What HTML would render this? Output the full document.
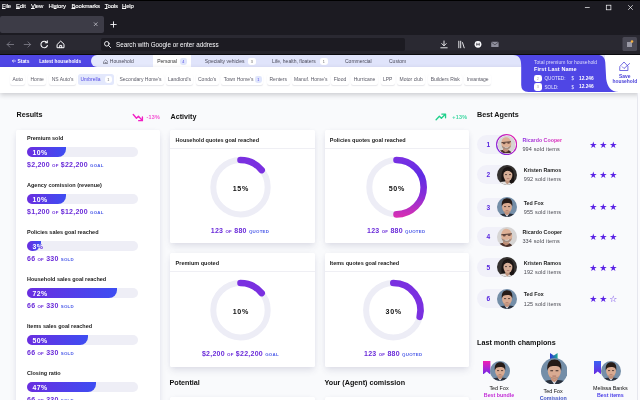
<!DOCTYPE html>
<html><head><meta charset="utf-8">
<style>
*{box-sizing:border-box;margin:0;padding:0}
html,body{width:640px;height:400px;overflow:hidden;background:#f9fafc;font-family:"Liberation Sans",sans-serif;}
body{position:relative}
.a{position:absolute;white-space:nowrap;line-height:1}
/* chrome */
#chrome{left:0;top:0;width:640px;height:55px;background:#1c1b22}
#tab{left:0;top:16px;width:103.5px;height:17px;background:#3d3c47;border-radius:2px}
#nav{left:0;top:34.6px;width:640px;height:19.2px;background:linear-gradient(#2a2932 0,#2a2932 76%,#24232b 84%,#24232b 100%);border-bottom:1.2px solid #0a0a0d;box-sizing:content-box}
#url{left:101px;top:37.5px;width:304px;height:13.5px;background:#1c1b22;border-radius:2px}
.menu{top:2.7px;font-size:6px;color:#fff;letter-spacing:-.18px;-webkit-text-stroke:.12px #fff}
.menu u{text-decoration-thickness:.4px;text-underline-offset:.35px}
/* page header */
#hdr{left:0;top:55px;width:640px;height:12px;background:#e0e4fb}
#hl{left:0;top:55px;width:100px;height:12px;background:#4f46e5}
#house{left:91px;top:55px;width:62px;height:12px;background:#e5e9fc;border-radius:6px 0 0 6px}
#pers{left:152.5px;top:55px;width:38px;height:12px;background:#fff}
.ht{top:59.4px;font-size:5px;color:#4a4a5a}
.hw{top:59.9px;font-size:4.9px;color:#fff;font-weight:bold}
.bdg{top:58px;height:7px;width:7.5px;border-radius:2px;background:#fff;font-size:3.8px;color:#666;text-align:center;line-height:8.2px;border-radius:2.4px}
#chips{left:0;top:67px;width:640px;height:25.6px;background:#fff;box-shadow:0 2px 5px rgba(20,20,30,.2)}
.chip{top:74px;height:10.5px;border-radius:2.5px;background:#fff;box-shadow:0 1.3px 1px -.5px rgba(60,60,90,.13);font-size:5px;color:#5a5a66;line-height:11.2px;padding:0 2.5px}
.card{background:#fff;border-radius:1.5px;box-shadow:0 4px 7px -1px rgba(60,60,105,.14),0 0 4px rgba(70,70,120,.03)}
.h1{font-size:7.2px;font-weight:bold;color:#111}
.lbl{font-size:5.5px;font-weight:bold;color:#1a1a1a;left:27px}
.track{left:27px;width:111px;height:10px;border-radius:5px;background:#eeeef6;color:#5a22e0;font-weight:bold;font-size:6.9px;line-height:11.2px;padding-left:5.6px;letter-spacing:.35px}
.fill{left:27px;height:10px;border-radius:5px 0 8px 5px;background:linear-gradient(90deg,#6a2ee0,#3d4df2);color:#fff;font-weight:bold;font-size:6.9px;line-height:11.2px;padding-left:5.6px;letter-spacing:.35px;overflow:hidden}
.val{left:27px;font-size:7px;font-weight:bold;color:#6a2bd9;letter-spacing:.25px}
.val s{text-decoration:none;font-size:4.4px;letter-spacing:.2px}
.val i{font-style:normal;font-size:4.4px;color:#4a5ae8;letter-spacing:.2px}
.ct{font-size:5.5px;font-weight:bold;color:#1a1a1a}
.pc{font-size:7.1px;font-weight:bold;color:#111;letter-spacing:.7px;text-align:center;width:40px;padding-left:.7px}
.cv{font-size:7px;font-weight:bold;color:#6a2bd9;letter-spacing:.25px;text-align:center;width:144px}
.cv s{text-decoration:none;font-size:4.4px}
.cv i{font-style:normal;font-size:4.4px;color:#4a5ae8}
.pill{left:477px;width:40px;height:19px;border-radius:9.5px;background:#f1f1f9}
.rk{left:483.4px;width:10px;text-align:center;font-size:6.6px;font-weight:bold;color:#5624e0}
.nm{left:522.6px;font-size:5.3px;font-weight:bold;color:#222}
.sd{left:522.6px;font-size:5.5px;color:#4a4a52;letter-spacing:.15px}
.nm1{background:linear-gradient(90deg,#8a2be2,#e628b4);-webkit-background-clip:text;background-clip:text;color:transparent}
.st{left:589.2px;font-size:9px;color:#5a22e6;letter-spacing:1.95px;font-family:"DejaVu Sans",sans-serif}
.cn{font-size:5.4px;color:#111;text-align:center;width:60px}
.cb{font-size:5.3px;font-weight:bold;text-align:center;width:60px}
</style></head><body>
<!-- browser chrome -->
<div class="a" id="chrome"></div>
<div class="a" style="left:0;top:0;width:640px;height:1px;background:#000"></div>
<div class="a" id="tab"></div>
<div class="a" id="nav"></div>
<div class="a" id="url"></div>
<div class="a menu" style="left:2px"><u>F</u>ile</div>
<div class="a menu" style="left:16px"><u>E</u>dit</div>
<div class="a menu" style="left:31px"><u>V</u>iew</div>
<div class="a menu" style="left:48.4px">Hi<u>s</u>tory</div>
<div class="a menu" style="left:71.5px"><u>B</u>ookmarks</div>
<div class="a menu" style="left:104.7px"><u>T</u>ools</div>
<div class="a menu" style="left:122px"><u>H</u>elp</div>
<svg class="a" style="left:0;top:0" width="640" height="55" viewBox="0 0 640 55" fill="none" stroke="#fbfbfe" stroke-width="0.8" stroke-linecap="round" stroke-linejoin="round">
 <!-- window controls -->
 <g stroke-width=".7" stroke-linecap="butt" stroke-linejoin="miter"><path d="M584.900 7.500h4.800"/><rect x="606.300" y="5.200" width="4.600" height="4.600"/><path d="M628.200 5.200l4.600 4.600M632.800 5.200l-4.600 4.600"/></g>
 <!-- tab close, new tab -->
 <path d="M94.2 22.7l3 3M97.2 22.7l-3 3" stroke="#d0d0d8" stroke-width=".7"/>
 <path d="M110.8 24.5h5.4M113.5 21.8v5.4" stroke-width=".9"/>
 <!-- back / forward -->
 <g stroke="#7d7c88" stroke-width=".85"><path d="M13.6 44.5h-6.400M9.800 41.900l-2.600 2.600 2.600 2.600"/><path d="M24.200 44.500h6.400M28 41.900l2.600 2.600-2.600 2.600"/></g>
 <!-- reload -->
 <path d="M46.800 42.400a3.300 3.300 0 1 0 .600 3.100" stroke-width="1.050"/><path d="M47.300 40.800v2h-2" stroke-width="1.050"/>
 <!-- home -->
 <path d="M57.400 44.200l3.300-3.100 3.300 3.100v3.500h-6.600zM59.700 47.700v-2.300h2v2.300" stroke-width="1"/>
 <!-- search -->
 <circle cx="106.8" cy="43.8" r="2.3" stroke-width=".9"/><path d="M108.6 45.6l2 2" stroke-width=".9"/>
 <!-- download -->
 <path d="M444 41v4.5M441.8 43.6l2.2 2.2 2.2-2.2M440.8 47.8h6.4" stroke-width=".9"/>
 <!-- library -->
 <path d="M458.800 41.200v6.600M460.700 41.200v6.600M462.500 42.600l1.700 5.200" stroke-width=".9"/>
 <!-- account -->
 <circle cx="478" cy="44.300" r="3.400" fill="#fbfbfe" stroke="none"/><path d="M476.800 43.200v2.200M479.200 43.200v2.200M476.800 44.300h2.400" stroke="#2b2a33" stroke-width=".7"/>
 <!-- mail -->
 <rect x="491.2" y="41.8" width="7.4" height="5.2" rx=".6" fill="#8f8f9d" stroke="none"/><path d="M491.4 42.2l3.5 2.6 3.5-2.6" stroke="#2b2a33" stroke-width=".6"/>
 <!-- ext -->
 <rect x="622.5" y="37" width="14.5" height="14" rx="1.5" fill="#4a4955" stroke="none"/>
 <rect x="627" y="42" width="5" height="5" fill="#9a99a6" stroke="none"/><circle cx="632" cy="41.5" r="1.3" fill="#f5b041" stroke="none"/>
</svg>
<div class="a" style="left:116px;top:42px;font-size:6.3px;color:#fbfbfe">Search with Google or enter address</div>

<!-- page header -->
<div class="a" id="hdr"></div>
<div class="a" id="hl"></div>
<div class="a" id="house"></div>
<div class="a" id="pers"></div>
<svg class="a" style="left:12px;top:59.4px" width="4" height="4" viewBox="0 0 4 4" fill="none" stroke="#fff" stroke-width=".65" stroke-linecap="round" stroke-linejoin="round"><path d="M3.7 2H.4M1.600 .8L.4 2 1.600 3.200"/></svg><div class="a hw" style="left:17.5px">Stats</div>
<div class="a hw" style="left:39.2px;font-size:4.75px">Latest households</div>
<svg class="a" style="left:103px;top:58.600px" width="5.400" height="5.400" viewBox="0 0 6 6" fill="none" stroke="#3a3a48" stroke-width=".55"><path d="M.6 3L3 .8 5.4 3v2.4H.6zM2.3 5.4V3.9h1.4v1.5"/></svg>
<div class="a ht" style="left:109.8px">Household</div>
<div class="a ht" style="left:157.2px;color:#333">Personal</div>
<div class="a bdg" style="left:179.5px;background:#dfe5fc;color:#4f46e5">4</div>
<div class="a ht" style="left:204.8px">Specialty vehicles</div>
<div class="a bdg" style="left:248px">3</div>
<div class="a ht" style="left:272px">Life, health, floaters</div>
<div class="a bdg" style="left:320px">1</div>
<div class="a ht" style="left:345px">Commercial</div>
<div class="a ht" style="left:389px">Custom</div>

<!-- chips -->
<div class="a" id="chips"></div>
<div class="a chip" style="left:10px">Auto</div>
<div class="a chip" style="left:28px">Home</div>
<div class="a chip" style="left:49.2px">NS Auto's</div>
<div class="a chip" style="left:78px;width:36px;background:#e3e8fc;box-shadow:none;color:#4f46e5">Umbrella</div>
<div class="a bdg" style="left:104.5px;top:75.7px">1</div>
<div class="a chip" style="left:117px">Secondary Home's</div>
<div class="a chip" style="left:165.5px">Landlord's</div>
<div class="a chip" style="left:195.5px">Condo's</div>
<div class="a chip" style="left:221.2px;width:42px">Town Home's</div>
<div class="a bdg" style="left:254.5px;top:75.7px;background:#dfe5fc;color:#4f46e5">1</div>
<div class="a chip" style="left:267px">Renters</div>
<div class="a chip" style="left:291.5px">Manuf. Home's</div>
<div class="a chip" style="left:331.2px">Flood</div>
<div class="a chip" style="left:351.2px">Hurricane</div>
<div class="a chip" style="left:380.5px">LPP</div>
<div class="a chip" style="left:397px">Motor club</div>
<div class="a chip" style="left:428.2px">Builders Risk</div>
<div class="a chip" style="left:464.2px">Invantage</div>

<!-- household summary blob -->
<svg class="a" style="left:500px;top:55px" width="140" height="40" viewBox="500 55 140 40">
 <path d="M605 55h35v37h-35z" fill="#fff"/>
 <path d="M513 55C519.5 55 521.2 59 521.2 66V85Q521.2 92 528.5 92H619C610.5 92 607.2 86 606.2 79L605.3 62.5C605 57.5 602.5 55 597.5 55Z" fill="#4f46e5"/>
 <g fill="none" stroke="#473ed8" stroke-width=".75" stroke-linejoin="round" stroke-linecap="round"><path d="M620.1 66.2l3.900-4.200 3.900 4.200v4.300h-7.800z"/><path d="M622.3 66.800l1.700 1.700 5.600-5"/></g>
</svg>
<div class="a" style="left:534px;top:60px;font-size:5px;color:#dcdcfa">Total premium for household</div>
<div class="a" style="left:534px;top:67px;font-size:5.5px;color:#fff;font-weight:bold;letter-spacing:.1px">First Last Name</div>
<div class="a bdg" style="left:534px;top:74.5px;width:7.5px;height:7.5px;color:#aaa;line-height:8px">2</div>
<div class="a bdg" style="left:534px;top:83px;width:7.5px;height:7.5px;color:#aaa;line-height:8px">3</div>
<div class="a" style="left:544.5px;top:77.3px;font-size:4.6px;color:#e8e8ff">QUOTED:</div>
<div class="a" style="left:544.5px;top:85.5px;font-size:4.6px;color:#e8e8ff">SOLD:</div>
<div class="a" style="left:571.5px;top:77.3px;font-size:4.6px;color:#e8e8ff">$</div>
<div class="a" style="left:571.5px;top:85.5px;font-size:4.6px;color:#e8e8ff">$</div>
<div class="a" style="left:579px;top:77.1px;font-size:4.8px;color:#fff;font-weight:bold">12.246</div>
<div class="a" style="left:579px;top:85.3px;font-size:4.8px;color:#fff;font-weight:bold">12.246</div>
<div class="a" style="left:607.3px;width:35px;text-align:center;top:73.6px;font-size:4.9px;color:#473ed8;font-weight:bold;line-height:5px">Save<br>household</div>

<!-- Results -->
<div class="a h1" style="left:16.5px;top:111px">Results</div>
<svg class="a" style="left:132.2px;top:113px" width="12.4" height="9.900" viewBox="0 0 10 8" fill="none" stroke="#f21fc4" stroke-width="1.1" stroke-linecap="round" stroke-linejoin="round"><path d="M1 1.2l2.6 3 1.6-1.6 3 3.4M8.4 3.2v3h-3"/></svg>
<div class="a" style="left:146.4px;top:114.6px;font-size:5.4px;color:#f44fd2;letter-spacing:.25px;font-weight:bold">-13%</div>
<div class="a card" style="left:16px;top:130px;width:144px;height:290px"></div>

<div class="a lbl" style="top:135.6px">Premium sold</div>
<div class="a track" style="top:146.8px">10%</div><div class="a fill" style="top:146.8px;width:39px">10%</div>
<div class="a val" style="top:161.0px">$2,200 <s>OF</s> $22,200 <i>GOAL</i></div>
<div class="a lbl" style="top:182.6px">Agency comission (revenue)</div>
<div class="a track" style="top:193.8px">10%</div><div class="a fill" style="top:193.8px;width:39px">10%</div>
<div class="a val" style="top:207.9px">$1,200 <s>OF</s> $12,200 <i>GOAL</i></div>
<div class="a lbl" style="top:229.7px">Policies sales goal reached</div>
<div class="a track" style="top:240.8px">3%</div><div class="a fill" style="top:240.8px;width:13.6px">3%</div>
<div class="a val" style="top:254.8px">66 <s>OF</s> 330 <i>SOLD</i></div>
<div class="a lbl" style="top:276.8px">Household sales goal reached</div>
<div class="a track" style="top:287.8px">72%</div><div class="a fill" style="top:287.8px;width:90px">72%</div>
<div class="a val" style="top:301.8px">66 <s>OF</s> 330 <i>SOLD</i></div>
<div class="a lbl" style="top:323.8px">Items sales goal reached</div>
<div class="a track" style="top:334.8px">50%</div><div class="a fill" style="top:334.8px;width:61px">50%</div>
<div class="a val" style="top:348.7px">66 <s>OF</s> 330 <i>SOLD</i></div>
<div class="a lbl" style="top:370.9px">Closing ratio</div>
<div class="a track" style="top:381.8px">47%</div><div class="a fill" style="top:381.8px;width:69px">47%</div>
<div class="a val" style="top:395.6px">66 <s>OF</s> 330 <i>SOLD</i></div>

<!-- Activity -->
<div class="a h1" style="left:170.5px;top:112.6px">Activity</div>
<svg class="a" style="left:435.2px;top:113.1px" width="12.1" height="8.800" viewBox="0 0 11 8" fill="none" stroke="#1fd08a" stroke-width="1.2" stroke-linecap="round" stroke-linejoin="round"><path d="M1 6.2l3-3.2 1.8 1.8 3.6-3.6M6.2 1h3.4v3.4"/></svg>
<div class="a" style="left:452.3px;top:114.6px;font-size:5.4px;color:#3fd8a2;letter-spacing:.25px;font-weight:bold">+13%</div>

<div class="a card" style="left:170px;top:129.6px;width:145px;height:113.6px"></div>
<div class="a card" style="left:324.5px;top:129.6px;width:144px;height:113.6px"></div>
<div class="a card" style="left:170px;top:253px;width:145px;height:113.5px"></div>
<div class="a card" style="left:324.5px;top:253px;width:144px;height:113.5px"></div>
<div class="a" style="left:170px;top:147.6px;width:145px;height:.5px;background:#efeff4"></div>
<div class="a" style="left:324.5px;top:147.6px;width:144px;height:.5px;background:#efeff4"></div>
<div class="a" style="left:170px;top:270.6px;width:145px;height:.5px;background:#efeff4"></div>
<div class="a" style="left:324.5px;top:270.6px;width:144px;height:.5px;background:#efeff4"></div>
<div class="a ct" style="left:175.6px;top:138.1px">Household quotes goal reached</div>
<div class="a ct" style="left:329.8px;top:138.1px">Policies quotes goal reached</div>
<div class="a ct" style="left:175.6px;top:261.1px">Premium quoted</div>
<div class="a ct" style="left:329.8px;top:261.1px">Items quotes goal reached</div>

<svg class="a" style="left:160px;top:100px" width="320" height="300" viewBox="160 100 320 300" fill="none" stroke-width="6.6" stroke-linecap="round">
 <defs>
  <linearGradient id="g50" gradientUnits="userSpaceOnUse" x1="0" y1="157" x2="0" y2="217"><stop offset="0" stop-color="#7c30e2"/><stop offset=".3" stop-color="#602ce4"/><stop offset=".65" stop-color="#8a2dd8"/><stop offset="1" stop-color="#d92fb2"/></linearGradient>
 </defs>
 <g stroke="#ededf6" stroke-width="6"><circle cx="240.5" cy="187.2" r="27.2"/><circle cx="396.5" cy="187.2" r="27.2"/><circle cx="240.5" cy="310.2" r="27.2"/><circle cx="393.3" cy="310.2" r="27.2"/></g>
 <path stroke="#7a30e0" d="M240.5 160.00A27.2 27.2 0 0 1 261.67 170.13"/>
 <path stroke="url(#g50)" d="M396.5 160.00A27.2 27.2 0 0 1 396.52 214.40"/>
 <path stroke="#7a30e0" d="M240.5 283.00A27.2 27.2 0 0 1 261.67 293.13"/>
 <path stroke="#7a30e0" d="M393.3 283.00A27.2 27.2 0 0 1 419.69 316.80"/>
</svg>
<div class="a pc" style="left:220.5px;top:185.6px">15%</div>
<div class="a pc" style="left:376.5px;top:185.6px">50%</div>
<div class="a pc" style="left:220.5px;top:308.6px">10%</div>
<div class="a pc" style="left:373.3px;top:308.6px">30%</div>
<div class="a cv" style="left:168px;top:226.6px">123 <s>OF</s> 880 <i>QUOTED</i></div>
<div class="a cv" style="left:324.2px;top:226.6px">123 <s>OF</s> 880 <i>QUOTED</i></div>
<div class="a cv" style="left:168.4px;top:349.6px">$2,200 <s>OF</s> $22,200 <i>GOAL</i></div>
<div class="a cv" style="left:321.2px;top:349.6px">123 <s>OF</s> 880 <i>QUOTED</i></div>
<div class="a card" style="left:170px;top:397px;width:145px;height:20px"></div>
<div class="a card" style="left:324.5px;top:397px;width:144px;height:20px"></div>
<div class="a h1" style="left:169.5px;top:378.5px">Potential</div>
<div class="a h1" style="left:324.5px;top:378.5px">Your (Agent) comission</div>

<!-- Best agents -->
<div class="a h1" style="left:477px;top:111px">Best Agents</div>
<div class="a" style="left:637.3px;top:93px;width:2.7px;height:307px;background:#fbfbfd;border-left:.5px solid #e6e7ee"></div>
<div id="agents">
<svg width="0" height="0" style="position:absolute"><defs>
<clipPath id="cc"><circle cx="10" cy="10" r="10"/></clipPath>
<linearGradient id="ring" x1="1" y1="0" x2="0" y2="1"><stop offset="0" stop-color="#f21fa8"/><stop offset="1" stop-color="#6a22e6"/></linearGradient>
<linearGradient id="rb1" x1="0" y1="0" x2="0" y2="1"><stop offset="0" stop-color="#f01fb4"/><stop offset=".6" stop-color="#a527d8"/><stop offset="1" stop-color="#6a27e2"/></linearGradient>
<linearGradient id="rb2" x1="0" y1="0" x2="1" y2="0"><stop offset="0" stop-color="#2b35d8"/><stop offset="1" stop-color="#1fa98f"/></linearGradient>
<linearGradient id="rb3" x1="0" y1="0" x2="0" y2="1"><stop offset="0" stop-color="#3a62f2"/><stop offset="1" stop-color="#6a27e2"/></linearGradient>
<symbol id="av-r" viewBox="0 0 20 20"><g clip-path="url(#cc)"><rect width="20" height="20" fill="#d6d4d3"/>
<path d="M0 20C.5 17 4 15.800 8.500 15.800S14.500 17 16 20Z" fill="#4a2f28"/>
<path d="M6 13h6v4L8.800 18.400 6 16.600Z" fill="#bd8c74"/>
<ellipse cx="9.700" cy="8.800" rx="5.500" ry="7" fill="#ddb096" transform="rotate(-8 9.700 8.800)"/>
<path d="M4.400 10.800C5 17 14.200 17.200 15 10.400 13.400 13.600 6.200 13.800 4.400 10.800Z" fill="#a48d80"/>
<path d="M4.300 7.800l10.600-1" stroke="#3a2a26" stroke-width=".9"/><ellipse cx="7.200" cy="8.500" rx="1.600" ry="1" fill="#6a4a40"/><ellipse cx="12.200" cy="8" rx="1.600" ry="1" fill="#6a4a40"/>
<path d="M7.800 12.800c1.200.9 3 .8 4.200-.3" stroke="#f4ece8" stroke-width=".7" fill="none"/>
</g></symbol>
<symbol id="av-k" viewBox="0 0 20 20"><g clip-path="url(#cc)"><rect width="20" height="20" fill="#34312f"/>
<path d="M4.800 18C3.400 8 5.800 2 10.900 2S18 8 16.800 18Z" fill="#1a1413"/>
<path d="M0 20C1 17.400 4 16.400 8 16.400S13.500 17.400 15 20Z" fill="#e3e1df"/>
<path d="M8.200 14h4.400v3.200L10.200 19.400 8.200 17Z" fill="#bd937c"/>
<ellipse cx="10.900" cy="9.900" rx="4.500" ry="6" fill="#d6ae97"/>
<path d="M6.400 9C6.600 4.400 8.800 3.200 11 3.200 13.600 3.200 15.400 4.800 15.500 9 14.200 6.800 12.200 5.800 10.600 5.800 9 5.800 7.400 7 6.400 9Z" fill="#1d1715"/>
<path d="M8 9.600h2M12 9.600h2" stroke="#3a2a26" stroke-width=".8"/><path d="M9.800 13.600h2.600" stroke="#985a50" stroke-width=".6"/>
</g></symbol>
<symbol id="av-t" viewBox="0 0 20 20"><g clip-path="url(#cc)"><rect width="20" height="20" fill="#748ea8"/>
<path d="M0 20C1 17.200 5 16.400 10 16.400S19 17.200 20 20Z" fill="#2a303c"/>
<path d="M7.600 16.200L10 20 12.400 16.200Z" fill="#dfe3ec"/>
<path d="M7.600 13h4.800v3.600L10 18.200 7.600 16.600Z" fill="#c59078"/>
<ellipse cx="10" cy="9.900" rx="4.900" ry="6.200" fill="#d9ab92"/>
<path d="M4.800 9.600C4.200 3.600 6.600 1.200 10.200 1.200 13.800 1.200 16 3.600 15.200 9.600 14.600 7 13.600 6 10.200 6 6.800 6 5.500 7 4.800 9.600Z" fill="#261b17"/>
<path d="M7 9.600h2.100M11 9.600h2.100" stroke="#3a2a26" stroke-width=".8"/><path d="M8.600 13.600h2.800" stroke="#a0645a" stroke-width=".6"/>
<path d="M6.200 13.400C7.400 16.600 12.600 16.600 13.800 13.400 12.400 15 7.600 15 6.200 13.400Z" fill="#b98d78"/>
</g></symbol>
</defs></svg>
<div class="a pill" style="top:134.8px"></div>
<div class="a rk" style="top:141.9px">1</div>
<svg class="a" style="left:495.8px;top:133.8px" width="21.2" height="21.2" viewBox="0 0 21.2 21.2"><circle cx="10.6" cy="10.6" r="10.6" fill="url(#ring)"/><circle cx="10.6" cy="10.6" r="9.400" fill="#fff"/><use href="#av-r" x="1.600" y="1.600" width="18" height="18"/></svg>
<div class="a nm nm1" style="left:522.4px;top:137.9px">Ricardo Cooper</div>
<div class="a sd" style="left:522.4px;top:147.0px">994 sold items</div>
<div class="a st" style="top:140.6px">★★★</div>
<div class="a pill" style="top:165.1px"></div>
<div class="a rk" style="top:172.2px">2</div>
<svg class="a" style="left:496.5px;top:164.7px" width="20" height="20" viewBox="0 0 20 20"><use href="#av-k" width="20" height="20"/></svg>
<div class="a nm" style="left:523.7px;top:168.2px">Kristen Ramos</div>
<div class="a sd" style="left:523.7px;top:177.3px">992 sold items</div>
<div class="a st" style="top:170.9px">★★★</div>
<div class="a pill" style="top:197.6px"></div>
<div class="a rk" style="top:204.7px">3</div>
<svg class="a" style="left:496.5px;top:197.2px" width="20" height="20" viewBox="0 0 20 20"><use href="#av-t" width="20" height="20"/></svg>
<div class="a nm" style="left:523.7px;top:200.7px">Ted Fox</div>
<div class="a sd" style="left:523.7px;top:209.8px">955 sold items</div>
<div class="a st" style="top:203.4px">★★★</div>
<div class="a pill" style="top:227.2px"></div>
<div class="a rk" style="top:234.3px">4</div>
<svg class="a" style="left:496.5px;top:226.8px" width="20" height="20" viewBox="0 0 20 20"><use href="#av-r" width="20" height="20"/></svg>
<div class="a nm" style="left:522.4px;top:230.3px">Ricardo Cooper</div>
<div class="a sd" style="left:522.4px;top:239.4px">334 sold items</div>
<div class="a st" style="top:233.0px">★★★</div>
<div class="a pill" style="top:257.8px"></div>
<div class="a rk" style="top:264.9px">5</div>
<svg class="a" style="left:496.5px;top:257.4px" width="20" height="20" viewBox="0 0 20 20"><use href="#av-k" width="20" height="20"/></svg>
<div class="a nm" style="left:523.7px;top:260.9px">Kristen Ramos</div>
<div class="a sd" style="left:523.7px;top:270.0px">192 sold items</div>
<div class="a st" style="top:263.6px">★★★</div>
<div class="a pill" style="top:289.3px"></div>
<div class="a rk" style="top:296.4px">6</div>
<svg class="a" style="left:496.5px;top:288.9px" width="20" height="20" viewBox="0 0 20 20"><use href="#av-t" width="20" height="20"/></svg>
<div class="a nm" style="left:523.7px;top:292.4px">Ted Fox</div>
<div class="a sd" style="left:523.7px;top:301.5px">125 sold items</div>
<div class="a st" style="top:295.1px">★★☆</div>
<svg class="a" style="left:483.3px;top:360.5px" width="7.4" height="13.6" viewBox="0 0 7.4 13.6"><path d="M0 0H7.4V13.6L3.7 10.6 0 13.6Z" fill="url(#rb1)"/></svg>
<svg class="a" style="left:489.6px;top:360.8px" width="20" height="20" viewBox="0 0 20 20"><use href="#av-t" width="20" height="20"/></svg>
<div class="a cn" style="left:469.0px;top:385.9px">Ted Fox</div>
<div class="a cb" style="left:469.0px;top:393.4px;color:#c22bd6">Best bundle</div>
<svg class="a" style="left:550.0px;top:353.3px" width="7.6" height="10" viewBox="0 0 7.6 10"><path d="M0 0L0 10H7.6V0L3.8 2.6Z" fill="url(#rb2)"/></svg>
<svg class="a" style="left:540.5px;top:357.6px" width="26.6" height="26.6" viewBox="0 0 20 20"><use href="#av-t" width="20" height="20"/></svg>
<div class="a cn" style="left:523.2px;top:388.6px">Ted Fox</div>
<div class="a cb" style="left:523.2px;top:396.1px;color:#3d4fc4">Comission</div>
<svg class="a" style="left:594.1px;top:360.5px" width="7.4" height="13.6" viewBox="0 0 7.4 13.6"><path d="M0 0H7.4V13.6L3.7 10.6 0 13.6Z" fill="url(#rb3)"/></svg>
<svg class="a" style="left:601.0px;top:360.8px" width="20" height="20" viewBox="0 0 20 20"><use href="#av-t" width="20" height="20"/></svg>
<div class="a cn" style="left:580.4px;top:385.9px">Melissa Banks</div>
<div class="a cb" style="left:580.4px;top:393.4px;color:#4a3ee8">Best items</div>
</div><!--/agents-->
<div class="a h1" style="left:477px;top:339px">Last month champions</div>
</body></html>
